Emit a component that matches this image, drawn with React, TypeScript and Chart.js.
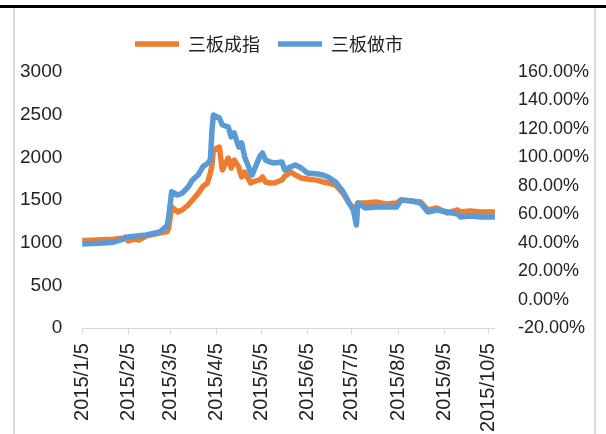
import React, { useEffect, useRef } from "react";
import { Chart, registerables } from "chart.js";

Chart.register(...registerables);

const dates = [
  "2015-01-05", "2015-01-12", "2015-01-19", "2015-01-26", "2015-02-02", "2015-02-03",
  "2015-02-05", "2015-02-09", "2015-02-12", "2015-02-17", "2015-02-26", "2015-03-03",
  "2015-03-04", "2015-03-06", "2015-03-10", "2015-03-13", "2015-03-17", "2015-03-20",
  "2015-03-24", "2015-03-27", "2015-03-30", "2015-04-01", "2015-04-02", "2015-04-03",
  "2015-04-07", "2015-04-09", "2015-04-13", "2015-04-15", "2015-04-17", "2015-04-20",
  "2015-04-22", "2015-04-24", "2015-04-28", "2015-04-29", "2015-05-04", "2015-05-06",
  "2015-05-08", "2015-05-11", "2015-05-14", "2015-05-19", "2015-05-21", "2015-05-25",
  "2015-05-28", "2015-06-01", "2015-06-05", "2015-06-12", "2015-06-16", "2015-06-19",
  "2015-06-24", "2015-06-29", "2015-07-03", "2015-07-06", "2015-07-08", "2015-07-09",
  "2015-07-14", "2015-07-21", "2015-07-28", "2015-08-04", "2015-08-07", "2015-08-14",
  "2015-08-20", "2015-08-25", "2015-08-31", "2015-09-07", "2015-09-14", "2015-09-16",
  "2015-09-22", "2015-09-30", "2015-10-09",
];

const sanbanChengzhi = [
  1025, 1030, 1035, 1040, 1055, 1066,
  1020, 1043, 1031, 1080, 1113, 1130,
  1172, 1418, 1360, 1383, 1441, 1500,
  1582, 1660, 1700, 1817, 1900, 2086,
  2121, 1852, 1992, 1875, 1969, 1887,
  1770, 1828, 1700, 1710, 1735, 1770,
  1711, 1700, 1700, 1735, 1780, 1828,
  1793, 1758, 1746, 1730, 1711, 1700,
  1676, 1582, 1465, 1406, 1420, 1465,
  1465, 1477, 1453, 1465, 1500, 1490,
  1477, 1383, 1406, 1348, 1383, 1360,
  1370, 1360, 1360,
];

const sanbanZuoshi = [
  985, 990, 995, 1005, 1045, 1055,
  1066, 1075, 1080, 1090, 1125, 1200,
  1300, 1597, 1559, 1580, 1650, 1734,
  1800, 1890, 1930, 1969, 2300, 2496,
  2461, 2379, 2356, 2239, 2285, 2121,
  2168, 2004, 1828, 1793, 2004, 2051,
  1969, 1945, 1934, 1945, 1852, 1890,
  1910, 1875, 1817, 1805, 1790, 1770,
  1711, 1600, 1470, 1380, 1207, 1465,
  1406, 1418, 1418, 1418, 1500, 1488,
  1465, 1360, 1383, 1360, 1336, 1301,
  1313, 1301, 1301,
];

const seriesNames = ["三板成指", "三板做市"];

const xTickDates = [
  "2015-01-05", "2015-02-05", "2015-03-05", "2015-04-05", "2015-05-05",
  "2015-06-05", "2015-07-05", "2015-08-05", "2015-09-05", "2015-10-05",
];
const xTickLabels = [
  "2015/1/5", "2015/2/5", "2015/3/5", "2015/4/5", "2015/5/5",
  "2015/6/5", "2015/7/5", "2015/8/5", "2015/9/5", "2015/10/5",
];

const leftMin = 0;
const leftMax = 3000;
const leftStep = 500;
const rightMin = -20;
const rightMax = 160;
const rightStep = 20;

const startDate = "2015-01-05";
const endDate = "2015-10-09";

function dayOf(s: string): number {
  const [y, m, d] = s.split("-").map(Number);
  const [y0, m0, d0] = startDate.split("-").map(Number);
  return Math.round((Date.UTC(y, m - 1, d) - Date.UTC(y0, m0 - 1, d0)) / 86400000);
}

const textColor = "#222222";
const latin = "'Liberation Sans', Arial, sans-serif";
const cjk = "'Noto Sans CJK SC', 'Noto Sans', sans-serif";

const legendShift = {
  id: "legendShift",
  afterLayout(chart: any) {
    const l = chart.legend;
    if (l) {
      l.left -= 37;
      l.right -= 37;
    }
  },
};

export default function App() {
  const ref = useRef<HTMLCanvasElement | null>(null);

  useEffect(() => {
    if (!ref.current) return;
    const tickDays = xTickDates.map(dayOf);
    const chart = new Chart(ref.current, {
      type: "line",
      data: {
        datasets: [
          {
            label: seriesNames[0],
            data: dates.map((d, i) => ({ x: dayOf(d), y: sanbanChengzhi[i] })),
            borderColor: "#ED7D31",
            backgroundColor: "#ED7D31",
            borderWidth: 5.5,
            pointRadius: 0,
            borderCapStyle: "round",
            borderJoinStyle: "round",
            tension: 0,
            yAxisID: "y",
          },
          {
            label: seriesNames[1],
            data: dates.map((d, i) => ({ x: dayOf(d), y: sanbanZuoshi[i] })),
            borderColor: "#5B9BD5",
            backgroundColor: "#5B9BD5",
            borderWidth: 5.5,
            pointRadius: 0,
            borderCapStyle: "round",
            borderJoinStyle: "round",
            tension: 0,
            yAxisID: "y",
            order: -1,
          },
        ],
      },
      options: {
        animation: false,
        responsive: false,
        devicePixelRatio: 1,
        layout: { padding: { left: -15, right: -18, top: 9, bottom: -7 } },
        plugins: {
          tooltip: { enabled: false },
          legend: {
            display: true,
            position: "top",
            labels: {
              usePointStyle: true,
              pointStyle: "line",
              pointStyleWidth: 44,
              boxHeight: 5,
              padding: 18,
              color: textColor,
              font: { family: cjk, size: 18 },
              sort: (a: any, b: any) => a.datasetIndex - b.datasetIndex,
            },
          },
          title: {
            display: true,
            text: "",
            weight: 500,
            padding: { top: 0, bottom: 8 },
            font: { size: 1, lineHeight: 1 },
          },
        },
        scales: {
          x: {
            type: "linear",
            min: 0,
            max: dayOf(endDate),
            afterBuildTicks: (scale: any) => {
              scale.ticks = tickDays.map((v) => ({ value: v }));
            },
            ticks: {
              autoSkip: false,
              minRotation: 90,
              maxRotation: 90,
              padding: 9,
              color: textColor,
              font: { family: latin, size: 20 },
              callback: (_v: any, i: number) => xTickLabels[i],
            },
            grid: {
              display: true,
              drawOnChartArea: false,
              drawTicks: true,
              tickLength: 6,
              color: "#d9d9d9",
            },
            border: { display: true, color: "#d9d9d9", width: 1 },
          },
          y: {
            type: "linear",
            position: "left",
            min: leftMin,
            max: leftMax,
            ticks: {
              stepSize: leftStep,
              padding: 20,
              color: textColor,
              font: { family: latin, size: 19 },
              callback: (v: any) => String(v),
            },
            grid: { display: false, drawTicks: false },
            border: { display: false },
          },
          y2: {
            type: "linear",
            position: "right",
            min: rightMin,
            max: rightMax,
            ticks: {
              stepSize: rightStep,
              padding: 23,
              color: textColor,
              font: { family: latin, size: 18 },
              callback: (v: any) => Number(v).toFixed(2) + "%",
            },
            grid: { display: false, drawTicks: false },
            border: { display: false },
          },
        },
      },
      plugins: [legendShift],
    } as any);
    return () => chart.destroy();
  }, []);

  return (
    <div
      style={{
        position: "absolute",
        left: 0,
        top: 0,
        width: 606,
        height: 434,
        background: "#ffffff",
        overflow: "hidden",
      }}
    >
      <div style={{ position: "absolute", left: 0, top: 5, width: 606, height: 3, background: "#000000" }} />
      <div style={{ position: "absolute", left: 13, top: 8, width: 2, height: 426, background: "#d9d9d9" }} />
      <div style={{ position: "absolute", left: 594, top: 8, width: 2, height: 426, background: "#d9d9d9" }} />
      <canvas
        ref={ref}
        width={579}
        height={426}
        style={{ position: "absolute", left: 15, top: 8, width: 579, height: 426 }}
      />
    </div>
  );
}
